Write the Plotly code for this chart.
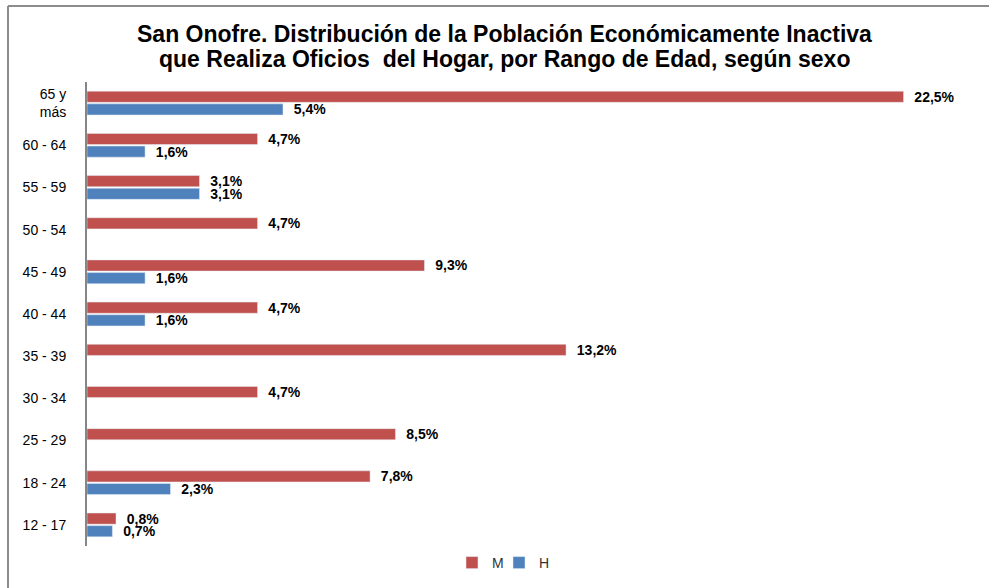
import plotly.graph_objects as go

# Data
categorias = ["12 - 17", "18 - 24", "25 - 29", "30 - 34", "35 - 39", "40 - 44",
              "45 - 49", "50 - 54", "55 - 59", "60 - 64", "65 y<br>más"]
mujeres = [0.8, 7.8, 8.5, 4.7, 13.2, 4.7, 9.3, 4.7, 3.1, 4.7, 22.5]
hombres = [0.7, 2.3, None, None, None, 1.6, 1.6, None, 3.1, 1.6, 5.4]
titulo = ["San Onofre. Distribución de la Población Económicamente Inactiva",
          "que Realiza Oficios  del Hogar, por Rango de Edad, según sexo"]

FONT = "Liberation Sans, Arial, sans-serif"
W, H = 989, 588
L, R, T, B = 87, 31, 82, 42


def etiquetas(vals):
    return ["\u00a0\u00a0" + ("%.1f%%" % v).replace(".", ",") if v is not None else "" for v in vals]


fig = go.Figure()
# H drawn first so it sits below M within each group (horizontal bars)
fig.add_trace(go.Bar(
    y=categorias, x=hombres, name="H", orientation="h", legend="legend2",
    marker_color="#4F81BD", text=etiquetas(hombres), textposition="outside",
    textfont=dict(family=FONT, size=14, color="black"), cliponaxis=False,
    texttemplate="<b>%{text}</b>", constraintext="none",
))
fig.add_trace(go.Bar(
    y=categorias, x=mujeres, name="M", orientation="h", legend="legend",
    marker_color="#C0504D", text=etiquetas(mujeres), textposition="outside",
    textfont=dict(family=FONT, size=14, color="black"), cliponaxis=False,
    texttemplate="<b>%{text}</b>", constraintext="none",
))

pw = W - L - R
ph = H - T - B


def px(x):
    return (x - L) / pw


def py(y):
    return (H - B - y) / ph


anns = []
for i, linea in enumerate(titulo):
    anns.append(dict(text="<b>" + linea + "</b>", xref="paper", yref="paper",
                     x=px(504), y=py(34 + 25 * i), xanchor="center", yanchor="middle",
                     showarrow=False, font=dict(family=FONT, size=23, color="black")))

leg = dict(orientation="h", xanchor="left", yanchor="middle", y=py(563),
           font=dict(family=FONT, size=14, color="#333333"), bgcolor="rgba(0,0,0,0)")

fig.update_layout(
    width=W, height=H,
    margin=dict(l=L, r=R, t=T, b=B, autoexpand=False),
    paper_bgcolor="white", plot_bgcolor="white",
    barmode="group", bargap=0.40, bargroupgap=0.12,
    annotations=anns,
    xaxis=dict(range=[0, 24], visible=False, fixedrange=True, automargin=False),
    yaxis=dict(showline=True, linecolor="#868686", linewidth=2, ticks="",
               tickfont=dict(family=FONT, size=14, color="black"), automargin=False,
               ticklabelstandoff=16, categoryorder="array", categoryarray=categorias),
    legend=dict(leg, x=px(452)),
    legend2=dict(leg, x=px(499)),
    showlegend=True,
    shapes=[
        dict(type="line", xref="paper", yref="paper", x0=px(8), x1=px(989), y0=py(6), y1=py(6),
             line=dict(color="#8c8c8c", width=2)),
        dict(type="line", xref="paper", yref="paper", x0=px(8), x1=px(8), y0=py(6), y1=py(588),
             line=dict(color="#8c8c8c", width=2)),
    ],
)

# the page body has a default 8px margin; remove it so the figure fills the window
fig.write_html("out.html", config={"displayModeBar": False},
               post_script="document.body.style.margin='0';")
